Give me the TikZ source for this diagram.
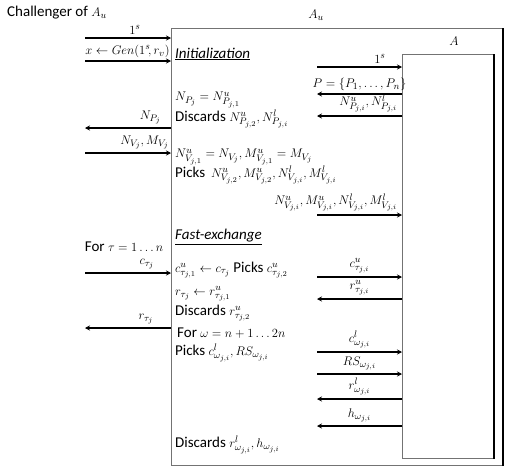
\RequirePackage{fix-cm}
\documentclass[tikz,border=0pt]{standalone}
\usepackage[no-math]{fontspec}
\setmainfont{Carlito}
\usetikzlibrary{positioning,arrows.meta}
\DeclareMathSizes{15}{12.5}{9.5}{7.5}

\begin{document}
\begin{tikzpicture}[
  x=1pt, y=-1pt,
  font=\fontsize{15}{17}\selectfont,
  ramme/.style={draw=black!55, line width=1pt, anchor=north west, inner sep=0pt},
  kant/.style={line width=1.2pt},
  melding/.style={-{Stealth[length=5pt, width=5pt]}, line width=1.1pt},
  tekst/.style={anchor=west, inner sep=0pt},
  merke/.style={above, inner sep=0pt, yshift=3pt}
]
\useasboundingbox (0,0) rectangle (512,466);
\node[tekst] (utfordrer) at (7,13) {Challenger of $A_u$};
\node[ramme, minimum width=331pt, minimum height=437pt] (au) at (171,28) {};
\node (aunavn) at (316,15) {$A_u$};
\node[ramme, minimum width=91pt, minimum height=404pt] (a) at (402,54) {};
\node (anavn) at (454,41) {$A$};
\draw[kant] (au.north east) -- (au.south east);
\draw[kant] (a.north east) -- (a.south east);

% tekst inne i A_u
\node[tekst] (init) at (175,54) {\underline{\textit{Initialization}}};
\node[tekst] (np) at (175,100) {$N_{P_j} = N^u_{P_{j,1}}$};
\node[tekst] (forkast1) at (175,119) {Discards $N^u_{P_{j,2}}, N^l_{P_{j,i}}$};
\node[tekst] (nv) at (175,157) {$N^u_{V_{j,1}} = N_{V_j}, M^u_{V_{j,1}} = M_{V_j}$};
\node[tekst] (velg1) at (175,175) {Picks\, $N^u_{V_{j,2}}, M^u_{V_{j,2}}, N^l_{V_{j,i}}, M^l_{V_{j,i}}$};
\node[tekst] (rask) at (175,237) {\underline{\textit{Fast-exchange}}};
\node[tekst] (ctau) at (175,270) {$c^u_{\tau_{j,1}} \leftarrow c_{\tau_j}$ Picks $c^u_{\tau_{j,2}}$};
\node[tekst] (rtau) at (175,294) {$r_{\tau_j} \leftarrow r^u_{\tau_{j,1}}$};
\node[tekst] (forkast2) at (175,313) {Discards $r^u_{\tau_{j,2}}$};
\node[tekst] (omega) at (177,333) {For $\omega = n+1 \ldots 2n$};
\node[tekst] (velg2) at (175,353) {Picks $c^l_{\omega_{j,i}}, RS_{\omega_{j,i}}$};
\node[tekst] (forkast3) at (175,445) {Discards $r^l_{\omega_{j,i}}, h_{\omega_{j,i}}$};
\node (fortau) at (124,247) {For $\tau = 1 \ldots n$};

% utfordrer <-> A_u
\coordinate (v1) at (85,38);
\coordinate (v2) at (85,61);
\coordinate (v3) at (85,128);
\coordinate (v4) at (85,153);
\coordinate (v5) at (85,273);
\coordinate (v6) at (85,328);
\draw[melding] (v1) -- (v1 -| au.west) node[pos=0.58, merke] {$1^s$};
\draw[melding] (v2) -- (v2 -| au.west) node[pos=0.99, merke, anchor=south east] {$x \leftarrow Gen(1^s\!, r_v)$};
\draw[melding] (v3 -| au.west) -- (v3) node[pos=0.24, merke] {$N_{P_j}$};
\draw[melding] (v4) -- (v4 -| au.west) node[pos=0.98, merke, anchor=south east] {$N_{V_j}, M_{V_j}$};
\draw[melding] (v5) -- (v5 -| au.west) node[pos=0.72, merke] {$c_{\tau_j}$};
\draw[melding] (v6 -| au.west) -- (v6) node[pos=0.29, merke] {$r_{\tau_j}$};

% A_u <-> A
\coordinate (h1) at (317,67);
\coordinate (h2) at (317,94);
\coordinate (h3) at (317,116);
\coordinate (h4) at (317,215);
\coordinate (h5) at (317,277);
\coordinate (h6) at (317,299);
\coordinate (h7) at (317,352);
\coordinate (h8) at (317,374);
\coordinate (h9) at (317,399);
\coordinate (h10) at (317,426);
\draw[melding] (h1) -- (h1 -| a.west) node[pos=0.74, merke] {$1^s$};
\draw[melding] (h2 -| a.west) -- (h2) node[midway, merke] {$P = \{P_1, \ldots, P_n\}$};
\draw[melding] (h3 -| a.west) -- (h3) node[pos=0.05, merke, anchor=south east] {$N^u_{P_{j,i}}, N^l_{P_{j,i}}$};
\draw[melding] (h4) -- (h4 -| a.west) node[pos=0.95, merke, anchor=south east] {$N^u_{V_{j,i}}, M^u_{V_{j,i}}, N^l_{V_{j,i}}, M^l_{V_{j,i}}$};
\draw[melding] (h5) -- (h5 -| a.west) node[midway, merke] {$c^u_{\tau_{j,i}}$};
\draw[melding] (h6 -| a.west) -- (h6) node[midway, merke] {$r^u_{\tau_{j,i}}$};
\draw[melding] (h7) -- (h7 -| a.west) node[midway, merke] {$c^l_{\omega_{j,i}}$};
\draw[melding] (h8) -- (h8 -| a.west) node[midway, merke] {$RS_{\omega_{j,i}}$};
\draw[melding] (h9 -| a.west) -- (h9) node[midway, merke] {$r^l_{\omega_{j,i}}$};
\draw[melding] (h10 -| a.west) -- (h10) node[midway, merke] {$h_{\omega_{j,i}}$};
\end{tikzpicture}
\end{document}
